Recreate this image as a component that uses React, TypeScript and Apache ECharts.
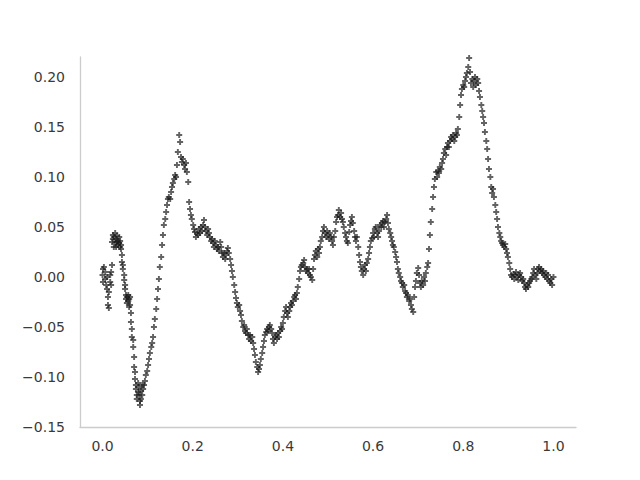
import React, { useEffect, useRef } from "react";
import * as echarts from "echarts";

const xTicks = [0, 0.2, 0.4, 0.6, 0.8, 1.0];
const yTicks = [-0.15, -0.1, -0.05, 0, 0.05, 0.1, 0.15, 0.2];

const walk1 = [
  [0.000, 0.002], [0.001, -0.005], [0.001, 0.008], [0.003, 0.010], [0.006, -0.002], [0.006, 0.005], [0.008, -0.008], [0.010, 0.000], [0.010, -0.012], [0.012, -0.020], [0.012, -0.028], [0.014, -0.031], [0.014, -0.015], [0.017, 0.002], [0.017, -0.005], [0.019, 0.005], [0.019, -0.008], [0.021, 0.012], [0.021, 0.035], [0.023, 0.042], [0.023, 0.038], [0.025, 0.030], [0.025, 0.040], [0.028, 0.034], [0.028, 0.044], [0.030, 0.038], [0.030, 0.030], [0.032, 0.041], [0.032, 0.035], [0.034, 0.032], [0.034, 0.036], [0.037, 0.040], [0.037, 0.034], [0.039, 0.030], [0.039, 0.036], [0.041, 0.028], [0.041, 0.032], [0.043, 0.022], [0.043, 0.015], [0.045, 0.008], [0.045, 0.012], [0.048, 0.002], [0.048, -0.003], [0.050, -0.008], [0.050, -0.012], [0.052, -0.018], [0.052, -0.022], [0.054, -0.020], [0.054, -0.026], [0.057, -0.018], [0.057, -0.024], [0.059, -0.030], [0.059, -0.022], [0.061, -0.028], [0.061, -0.020], [0.063, -0.036], [0.063, -0.045], [0.065, -0.052], [0.065, -0.060], [0.068, -0.063], [0.068, -0.070], [0.070, -0.080], [0.070, -0.090], [0.072, -0.095], [0.072, -0.102], [0.074, -0.108], [0.074, -0.112], [0.076, -0.118], [0.076, -0.122], [0.079, -0.115], [0.079, -0.106], [0.081, -0.110], [0.081, -0.118], [0.083, -0.124], [0.083, -0.128], [0.085, -0.122], [0.085, -0.114], [0.088, -0.108], [0.088, -0.118], [0.090, -0.112], [0.092, -0.108], [0.094, -0.104], [0.096, -0.098], [0.099, -0.094],
];
const walk2 = [
  [0.101, -0.088], [0.103, -0.082], [0.105, -0.076], [0.108, -0.070], [0.110, -0.066], [0.112, -0.060], [0.114, -0.050], [0.116, -0.042], [0.119, -0.032], [0.121, -0.022], [0.123, -0.012], [0.125, -0.002], [0.127, 0.010], [0.130, 0.020], [0.132, 0.032], [0.134, 0.042], [0.136, 0.052], [0.139, 0.058], [0.141, 0.065], [0.143, 0.072], [0.145, 0.078], [0.147, 0.080], [0.150, 0.078], [0.152, 0.085], [0.154, 0.090], [0.156, 0.094], [0.159, 0.098], [0.161, 0.102], [0.163, 0.100], [0.165, 0.112], [0.167, 0.125], [0.170, 0.142], [0.172, 0.135], [0.174, 0.120], [0.176, 0.115], [0.178, 0.118], [0.181, 0.112], [0.183, 0.108], [0.185, 0.114], [0.187, 0.105], [0.190, 0.095], [0.192, 0.075], [0.194, 0.068], [0.196, 0.062], [0.198, 0.058],
];
const walk3 = [
  [0.201, 0.052], [0.203, 0.048], [0.205, 0.045], [0.207, 0.040], [0.210, 0.044], [0.212, 0.042], [0.214, 0.048], [0.216, 0.044], [0.218, 0.050], [0.221, 0.046], [0.223, 0.052], [0.225, 0.057], [0.227, 0.050], [0.229, 0.046], [0.232, 0.042], [0.234, 0.048], [0.236, 0.044], [0.238, 0.040], [0.241, 0.036], [0.243, 0.038], [0.245, 0.034], [0.247, 0.030], [0.249, 0.036], [0.252, 0.032], [0.254, 0.028], [0.256, 0.030], [0.258, 0.026], [0.261, 0.035], [0.263, 0.030], [0.265, 0.024], [0.267, 0.020], [0.269, 0.024], [0.272, 0.018], [0.274, 0.022], [0.276, 0.026], [0.278, 0.029], [0.280, 0.024], [0.283, 0.018], [0.285, 0.012], [0.287, 0.006], [0.289, 0.000], [0.292, -0.008], [0.294, -0.015], [0.296, -0.021], [0.298, -0.026],
];
const walk4 = [
  [0.300, -0.030], [0.303, -0.028], [0.305, -0.034], [0.307, -0.038], [0.309, -0.044], [0.312, -0.050], [0.314, -0.048], [0.316, -0.054], [0.318, -0.056], [0.320, -0.052], [0.323, -0.058], [0.325, -0.062], [0.327, -0.058], [0.329, -0.064], [0.332, -0.060], [0.334, -0.066], [0.336, -0.072], [0.338, -0.078], [0.340, -0.085], [0.343, -0.090], [0.345, -0.095], [0.347, -0.092], [0.349, -0.088], [0.351, -0.082], [0.354, -0.076], [0.356, -0.070], [0.358, -0.064], [0.360, -0.058], [0.363, -0.055], [0.365, -0.052], [0.367, -0.054], [0.369, -0.050], [0.371, -0.048], [0.374, -0.052], [0.376, -0.056], [0.378, -0.062], [0.380, -0.066], [0.383, -0.060], [0.385, -0.058], [0.387, -0.062], [0.389, -0.056], [0.391, -0.060], [0.394, -0.054], [0.396, -0.050], [0.398, -0.052],
];
const walk5 = [
  [0.400, -0.046], [0.402, -0.040], [0.405, -0.034], [0.407, -0.030], [0.409, -0.036], [0.411, -0.040], [0.414, -0.034], [0.416, -0.030], [0.418, -0.026], [0.420, -0.028], [0.422, -0.024], [0.425, -0.020], [0.427, -0.018], [0.429, -0.022], [0.431, -0.016], [0.433, -0.010], [0.436, -0.002], [0.438, 0.006], [0.440, 0.010], [0.442, 0.012], [0.445, 0.014], [0.447, 0.017], [0.449, 0.010], [0.451, 0.006], [0.453, 0.008], [0.456, 0.004], [0.458, 0.008], [0.460, 0.002], [0.462, 0.000], [0.465, -0.003], [0.467, 0.008], [0.469, 0.018], [0.471, 0.022], [0.473, 0.026], [0.476, 0.020], [0.478, 0.028], [0.480, 0.024], [0.482, 0.030], [0.484, 0.036], [0.487, 0.040], [0.489, 0.046], [0.491, 0.050], [0.493, 0.044], [0.496, 0.040], [0.498, 0.046],
];
const walk6 = [
  [0.500, 0.042], [0.502, 0.038], [0.504, 0.044], [0.507, 0.040], [0.509, 0.036], [0.511, 0.032], [0.513, 0.040], [0.516, 0.046], [0.518, 0.055], [0.520, 0.060], [0.522, 0.062], [0.524, 0.067], [0.527, 0.060], [0.529, 0.064], [0.531, 0.058], [0.533, 0.055], [0.535, 0.050], [0.538, 0.044], [0.540, 0.040], [0.542, 0.036], [0.544, 0.034], [0.547, 0.045], [0.549, 0.052], [0.551, 0.056], [0.553, 0.060], [0.555, 0.054], [0.558, 0.046], [0.560, 0.040], [0.562, 0.036], [0.564, 0.040], [0.567, 0.030], [0.569, 0.022], [0.571, 0.015], [0.573, 0.010], [0.575, 0.006], [0.578, 0.002], [0.580, 0.008], [0.582, 0.012], [0.584, 0.006], [0.586, 0.014], [0.589, 0.018], [0.591, 0.024], [0.593, 0.030], [0.595, 0.036], [0.598, 0.039],
];
const walk7 = [
  [0.600, 0.044], [0.602, 0.040], [0.604, 0.048], [0.606, 0.050], [0.609, 0.044], [0.611, 0.040], [0.613, 0.046], [0.615, 0.052], [0.618, 0.050], [0.620, 0.054], [0.622, 0.056], [0.624, 0.050], [0.626, 0.055], [0.629, 0.058], [0.631, 0.062], [0.633, 0.054], [0.635, 0.048], [0.638, 0.044], [0.640, 0.040], [0.642, 0.036], [0.644, 0.032], [0.646, 0.030], [0.649, 0.025], [0.651, 0.020], [0.653, 0.015], [0.655, 0.008], [0.657, 0.004], [0.660, 0.000], [0.662, -0.004], [0.664, -0.006], [0.666, -0.010], [0.669, -0.008], [0.671, -0.014], [0.673, -0.016], [0.675, -0.020], [0.677, -0.018], [0.680, -0.024], [0.682, -0.022], [0.684, -0.028], [0.686, -0.032], [0.689, -0.035], [0.691, -0.020], [0.693, -0.010], [0.695, -0.004], [0.697, 0.004],
];
const walk8 = [
  [0.700, 0.009], [0.702, 0.002], [0.704, -0.006], [0.706, -0.010], [0.708, -0.004], [0.711, -0.008], [0.713, 0.000], [0.715, -0.004], [0.717, 0.004], [0.720, 0.010], [0.722, 0.014], [0.724, 0.028], [0.726, 0.042], [0.728, 0.055], [0.731, 0.068], [0.733, 0.080], [0.735, 0.090], [0.737, 0.098], [0.740, 0.105], [0.742, 0.100], [0.744, 0.106], [0.746, 0.104], [0.748, 0.110], [0.751, 0.108], [0.753, 0.114], [0.755, 0.118], [0.757, 0.124], [0.760, 0.128], [0.762, 0.122], [0.764, 0.130], [0.766, 0.134], [0.768, 0.130], [0.771, 0.136], [0.773, 0.140], [0.775, 0.138], [0.777, 0.142], [0.780, 0.136], [0.782, 0.140], [0.784, 0.144], [0.786, 0.142], [0.788, 0.148], [0.791, 0.160], [0.793, 0.172], [0.795, 0.182], [0.797, 0.188],
];
const walk9 = [
  [0.800, 0.192], [0.802, 0.190], [0.804, 0.196], [0.806, 0.200], [0.808, 0.204], [0.811, 0.210], [0.813, 0.219], [0.815, 0.205], [0.817, 0.194], [0.820, 0.198], [0.822, 0.190], [0.824, 0.196], [0.826, 0.200], [0.828, 0.192], [0.831, 0.198], [0.833, 0.194], [0.835, 0.186], [0.837, 0.180], [0.840, 0.172], [0.842, 0.166], [0.844, 0.160], [0.846, 0.154], [0.848, 0.145], [0.851, 0.136], [0.853, 0.128], [0.855, 0.118], [0.857, 0.108], [0.860, 0.100], [0.862, 0.090], [0.864, 0.084], [0.866, 0.088], [0.868, 0.080], [0.871, 0.072], [0.873, 0.065], [0.875, 0.058], [0.877, 0.050], [0.880, 0.044], [0.882, 0.040], [0.884, 0.036], [0.886, 0.034], [0.888, 0.032], [0.891, 0.030], [0.893, 0.033], [0.895, 0.028], [0.897, 0.024], [0.899, 0.020],
];
const walk10 = [
  [0.902, 0.014], [0.904, 0.008], [0.906, 0.002], [0.908, 0.000], [0.911, 0.003], [0.913, -0.002], [0.915, 0.002], [0.917, 0.005], [0.920, 0.000], [0.922, -0.003], [0.924, 0.002], [0.926, 0.004], [0.928, 0.000], [0.931, -0.004], [0.933, -0.002], [0.935, -0.006], [0.937, -0.010], [0.939, -0.012], [0.942, -0.008], [0.944, -0.010], [0.946, -0.006], [0.948, -0.004], [0.951, -0.002], [0.953, 0.000], [0.955, 0.004], [0.957, 0.008], [0.960, 0.002], [0.962, -0.002], [0.964, 0.004], [0.966, 0.008], [0.968, 0.010], [0.971, 0.006], [0.973, 0.008], [0.975, 0.004], [0.977, 0.006], [0.979, 0.002], [0.982, 0.000], [0.984, 0.004], [0.986, -0.002], [0.988, 0.002], [0.991, -0.004], [0.993, -0.006], [0.995, -0.002], [0.997, -0.008], [1.000, 0.000],
];

const walk = [
  ...walk1, ...walk2, ...walk3, ...walk4, ...walk5,
  ...walk6, ...walk7, ...walk8, ...walk9, ...walk10,
];

const PLUS = "path://M3.4,0H6.6V3.4H10V6.6H6.6V10H3.4V6.6H0V3.4H3.4Z";
const AXIS_GRAY = "#cccccc";
const TEXT = "#3a3a3a";
const FONT = "DejaVu Sans";

const fmt = (v: number, d: number) => {
  const s = Math.abs(v) < 1e-9 ? (0).toFixed(d) : v.toFixed(d);
  return s.replace("-", "\u2212");
};

export default function App() {
  const ref = useRef<HTMLDivElement>(null);
  useEffect(() => {
    if (!ref.current) return;
    const chart = echarts.init(ref.current, null, { renderer: "svg" });
    chart.setOption({
      animation: false,
      backgroundColor: "#ffffff",
      grid: { left: 80, right: 64, top: 57, bottom: 53, containLabel: false },
      xAxis: {
        type: "value",
        min: -0.05,
        max: 1.05,
        splitLine: { show: false },
        axisTick: { show: false },
        axisLine: { show: true, onZero: false, lineStyle: { color: AXIS_GRAY, width: 1.3 } },
        axisLabel: {
          customValues: xTicks,
          formatter: (v: number) => fmt(v, 1),
          color: TEXT,
          fontFamily: FONT,
          fontSize: 14,
          margin: 12,
        },
      },
      yAxis: {
        type: "value",
        min: -0.15,
        max: 0.22,
        splitLine: { show: false },
        axisTick: { show: false },
        axisLine: { show: true, onZero: false, lineStyle: { color: AXIS_GRAY, width: 1.3 } },
        axisLabel: {
          customValues: yTicks,
          formatter: (v: number) => fmt(v, 2),
          color: TEXT,
          fontFamily: FONT,
          fontSize: 14,
          margin: 15,
        },
      },
      series: [
        {
          type: "scatter",
          data: walk,
          symbol: PLUS,
          symbolSize: 6,
          itemStyle: { color: "rgba(25,25,25,0.85)" },
        },
      ],
    });
    return () => chart.dispose();
  }, []);
  return <div ref={ref} style={{ width: 640, height: 480, position: "absolute", left: 0, top: 0 }} />;
}
